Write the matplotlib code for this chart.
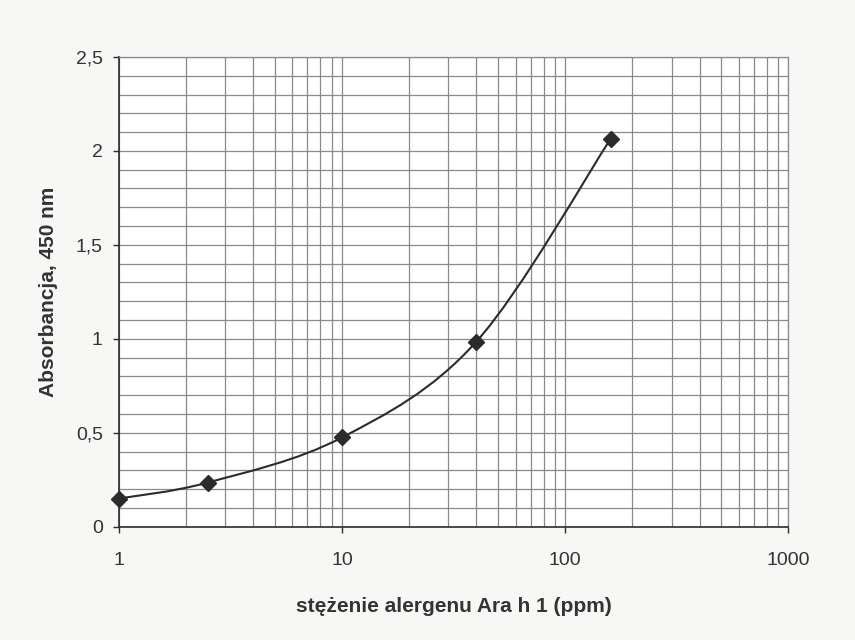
#!/usr/bin/env python3
"""
plot.py - calibration curve for Ara h 1 ELISA (absorbance at 450 nm
vs. allergen concentration, log x axis). Saves out.png.
"""

import numpy as np
import matplotlib
matplotlib.use("Agg")
import matplotlib.pyplot as plt
from matplotlib.path import Path
from matplotlib.patches import PathPatch
from matplotlib.ticker import FixedLocator, LogLocator, NullFormatter

# -----------------------------
# Data
# -----------------------------
concentration_ppm = [1, 2.5, 10, 40, 160]
absorbance_450 = [0.15, 0.235, 0.475, 0.985, 2.065]

x_ticks = [1, 10, 100, 1000]
x_tick_labels = ["1", "10", "100", "1000"]
y_ticks = [0, 0.5, 1, 1.5, 2, 2.5]
y_tick_labels = ["0", "0,5", "1", "1,5", "2", "2,5"]

X_LABEL = "stężenie alergenu Ara h 1 (ppm)"
Y_LABEL = "Absorbancja, 450 nm"

plt.rcParams["font.family"] = ["Liberation Sans", "DejaVu Sans"]

GRID = "#8a8a8a"
INK = "#2b2b2b"


# -----------------------------
# Helper: Excel-like smoothed line as a Bezier path (log x space)
# -----------------------------
def smooth_path(xs, ys, tension=1 / 6):
    lx = np.log10(xs)
    y = np.asarray(ys, dtype=float)
    n = len(lx)
    verts = [(lx[0], y[0])]
    codes = [Path.MOVETO]
    for i in range(n - 1):
        p0 = (lx[max(i - 1, 0)], y[max(i - 1, 0)])
        p1 = (lx[i], y[i])
        p2 = (lx[i + 1], y[i + 1])
        p3 = (lx[min(i + 2, n - 1)], y[min(i + 2, n - 1)])
        c1 = (p1[0] + (p2[0] - p0[0]) * tension, p1[1] + (p2[1] - p0[1]) * tension)
        c2 = (p2[0] - (p3[0] - p1[0]) * tension, p2[1] - (p3[1] - p1[1]) * tension)
        verts += [c1, c2, p2]
        codes += [Path.CURVE4] * 3
    verts = [(10 ** vx, vy) for vx, vy in verts]
    return Path(verts, codes)


# -----------------------------
# Figure
# -----------------------------
fig = plt.figure(figsize=(8.55, 6.4), dpi=100, facecolor="#f7f7f6")
ax = fig.add_axes([0.139, 0.177, 0.783, 0.734])
ax.set_facecolor("white")

ax.set_xscale("log")
ax.set_xlim(1, 1000)
ax.set_ylim(0, 2.5)

ax.xaxis.set_major_locator(FixedLocator(x_ticks))
ax.set_xticklabels(x_tick_labels)
ax.xaxis.set_minor_locator(LogLocator(base=10, subs=np.arange(2, 10)))
ax.xaxis.set_minor_formatter(NullFormatter())

ax.set_yticks(y_ticks)
ax.set_yticklabels(y_tick_labels)
ax.yaxis.set_minor_locator(FixedLocator(np.arange(0, 2.55, 0.1)))

ax.grid(True, which="both", color=GRID, linewidth=0.9)
ax.set_axisbelow(True)

ax.tick_params(axis="both", which="major", length=4.5, width=1, color=INK,
               labelsize=14, labelcolor="#333333")
ax.tick_params(axis="x", pad=14)
ax.tick_params(axis="y", pad=7)
ax.tick_params(axis="both", which="minor", length=0)

for side in ("top", "right"):
    ax.spines[side].set_color(GRID)
    ax.spines[side].set_linewidth(0.9)
for side in ("left", "bottom"):
    ax.spines[side].set_color(INK)
    ax.spines[side].set_linewidth(1.2)

# smoothed curve + markers
ax.add_patch(PathPatch(smooth_path(concentration_ppm, absorbance_450),
                       facecolor="none", edgecolor=INK, linewidth=1.5, zorder=3))
ax.plot(concentration_ppm, absorbance_450, linestyle="none", marker="D",
        markersize=8, color=INK, zorder=4, clip_on=False)

ax.set_xlabel(X_LABEL, fontsize=15, fontweight="bold", color="#333333", labelpad=20)
ax.set_ylabel(Y_LABEL, fontsize=15, fontweight="bold", color="#333333", labelpad=13)

fig.savefig("out.png", dpi=100, facecolor=fig.get_facecolor())
